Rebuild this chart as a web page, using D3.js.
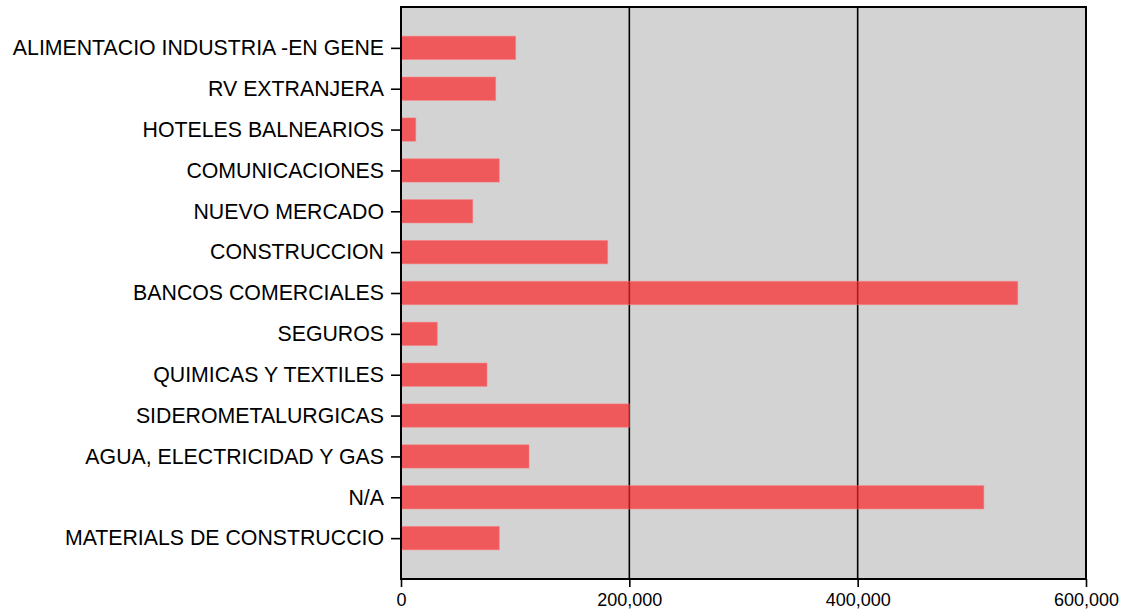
<!DOCTYPE html>
<html>
<head>
<meta charset="utf-8">
<script src="https://cdn.jsdelivr.net/npm/d3@7"></script>
<style>
  body { margin: 0; background: #fff; }
  text { font-family: "Liberation Sans", Arial, sans-serif; }
</style>
</head>
<body>
<div id="chart"></div>
<script>
// data, top to bottom as shown
var sectors = ["ALIMENTACIO INDUSTRIA -EN GENE", "RV EXTRANJERA", "HOTELES BALNEARIOS", "COMUNICACIONES",
    "NUEVO MERCADO", "CONSTRUCCION", "BANCOS COMERCIALES", "SEGUROS", "QUIMICAS Y TEXTILES",
    "SIDEROMETALURGICAS", "AGUA, ELECTRICIDAD Y GAS", "N/A", "MATERIALS DE CONSTRUCCIO"];
var amounts = [100400, 82900, 12900, 86100, 62800, 181000, 540200, 31800, 75300, 200000, 112100, 510500, 86100];
var xTicks = [0, 200000, 400000, 600000];

var WIDTH = 1126, HEIGHT = 610;
var LEFT = 401, TOP = 7, RIGHT = 40, BOTTOM = 31;
var W = WIDTH - LEFT - RIGHT, H = HEIGHT - TOP - BOTTOM;

const svg = d3.select("#chart").append("svg").attr("width", WIDTH).attr("height", HEIGHT)
const g = svg.append("g").attr("transform", "translate(" + LEFT + "," + TOP + ")")

const x = d3.scaleLinear().domain([0, 600000]).range([0, W])
const y = d3.scalePoint().domain(sectors).range([0, H]).padding(1)
const barH = y.step() * 0.57

// plot background
g.append("rect").attr("width", W).attr("height", H).attr("fill", "#d3d3d3")

// grid lines
g.selectAll(".grid").data(xTicks.slice(1, -1)).enter().append("line")
    .attr("x1", d => x(d)).attr("x2", d => x(d)).attr("y1", 0).attr("y2", H)
    .attr("stroke", "#000").attr("stroke-width", 1.6)

// bars
g.selectAll(".bar").data(amounts).enter().append("rect")
    .attr("x", 0).attr("y", (d, i) => y(sectors[i]) - barH / 2)
    .attr("width", d => x(d)).attr("height", barH)
    .attr("fill", "rgb(251,37,40)").attr("fill-opacity", 0.7)
    .attr("stroke", "rgb(255,120,120)").attr("stroke-opacity", 0.5).attr("stroke-width", 1)

// axes
const xAxis = d3.axisBottom(x).tickValues(xTicks).tickFormat(d3.format(",")).tickSizeOuter(0).tickSize(8).tickPadding(6)
const xg = g.append("g").attr("transform", "translate(0," + H + ")").call(xAxis)
xg.selectAll("text").style("font-size", "18px").attr("fill", "#000")
xg.selectAll("line").attr("stroke-width", 1.6)
xg.select(".domain").remove()

const yAxis = d3.axisLeft(y).tickSize(10).tickSizeOuter(0).tickPadding(7)
const yg = g.append("g").call(yAxis)
yg.selectAll("text").style("font-size", "21.3px").attr("fill", "#000")
yg.selectAll("line").attr("stroke-width", 1.6)
yg.select(".domain").remove()

// frame
g.append("rect").attr("width", W).attr("height", H).attr("fill", "none")
    .attr("stroke", "#000").attr("stroke-width", 2)
</script>
</body>
</html>
